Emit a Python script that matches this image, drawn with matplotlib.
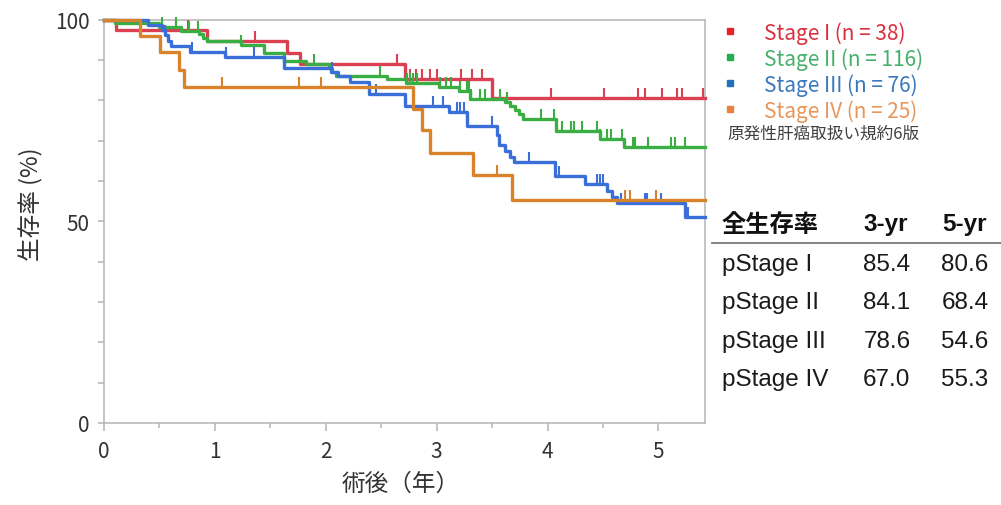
import numpy as np
import matplotlib
matplotlib.use("Agg")
import matplotlib.pyplot as plt
from matplotlib.lines import Line2D
from matplotlib.path import Path

plt.rcParams['font.family'] = ['Noto Sans CJK JP', 'DejaVu Sans']

# ---------------- data ----------------
x_end = 5.42  # end of follow-up shown

# Stage I
t1 = [0.108, 0.93, 1.65, 1.77, 2.71, 3.50]
s1 = [97.4, 94.7, 91.8, 88.9, 85.4, 80.6]
c1 = [0.76, 1.36, 2.64, 2.76, 2.81, 2.87, 2.94, 3.00, 3.22, 3.32, 3.41,
      4.03, 4.51, 4.82, 4.88, 5.03, 5.17, 5.21, 5.40]

# Stage II
t2 = [0.10, 0.50, 0.69, 0.86, 0.89, 0.93, 1.24, 1.44, 1.62, 1.82, 2.03, 2.06,
      2.09, 2.55, 2.72, 3.02, 3.20, 3.30, 3.62, 3.66, 3.71, 3.74, 3.78, 4.08,
      4.47, 4.69]
s2 = [99.1, 98.2, 97.3, 96.4, 95.5, 94.6, 93.8, 91.8, 89.8, 88.9, 88.0, 87.0,
      86.1, 85.3, 84.4, 83.4, 82.2, 80.4, 79.5, 78.6, 77.5, 76.6, 75.4, 72.3,
      70.5, 68.4]
c2 = [0.52, 0.65, 0.77, 0.85, 1.24, 1.89, 2.49, 2.73, 2.76, 2.79, 2.82, 3.03,
      3.08, 3.13, 3.21, 3.27, 3.29, 3.31, 3.39, 3.44, 3.57, 3.63, 3.94, 4.06,
      4.13, 4.21, 4.24, 4.31, 4.45, 4.47, 4.54, 4.57, 4.67, 4.77, 4.79, 4.91,
      5.11, 5.15, 5.24]

# Stage III
t3 = [0.40, 0.52, 0.55, 0.58, 0.60, 0.78, 1.09, 1.62, 2.05, 2.11, 2.22, 2.39,
      2.71, 3.11, 3.27, 3.54, 3.56, 3.62, 3.66, 3.70, 4.07, 4.34, 4.54, 4.58,
      4.63, 5.24]
s3 = [98.7, 97.4, 96.1, 94.7, 93.4, 92.1, 90.8, 87.9, 87.0, 86.1, 84.6, 81.6,
      78.6, 77.0, 73.7, 71.5, 69.0, 67.5, 66.0, 64.6, 61.3, 59.3, 57.6, 56.1,
      54.6, 51.0]
c3 = [0.55, 0.79, 1.10, 1.35, 2.06, 2.45, 2.97, 3.06, 3.18, 3.21, 3.25, 3.50,
      3.83, 4.10, 4.45, 4.47, 4.50, 4.66, 4.88, 4.90, 5.02, 5.27]

# Stage IV
t4 = [0.325, 0.505, 0.68, 0.72, 2.79, 2.87, 2.94, 3.33, 3.68]
s4 = [96.0, 92.0, 87.6, 83.2, 77.9, 72.6, 67.0, 61.4, 55.3]
c4 = [1.06, 1.76, 1.96, 3.54, 4.70, 4.74, 4.98]

legend_labels = ['Stage I (n = 38)', 'Stage II (n = 116)',
                 'Stage III (n = 76)', 'Stage IV (n = 25)']
note_text = '原発性肝癌取扱い規約6版'

table_title = '全生存率'
table_cols = ['3-yr', '5-yr']
table_rows = ['pStage I', 'pStage II', 'pStage III', 'pStage IV']
os_3yr = [85.4, 84.1, 78.6, 67.0]
os_5yr = [80.6, 68.4, 54.6, 55.3]

# ---------------- styles ----------------
line_colors = ['#d94152', '#3aad43', '#3a6fd9', '#d8832b']
legend_text_colors = ['#d9303f', '#45b06a', '#3a78bd', '#e8965a']
legend_sq_colors = ['#e8202a', '#20b050', '#2070c0', '#e88040']
frame_c = '#b4b4b4'
text_c = '#333333'

W, H = 1001, 506
fig = plt.figure(figsize=(W / 100, H / 100), dpi=100)
ax = fig.add_axes([104 / W, 1 - 424 / H, (705 - 104) / W, (424 - 20.7) / H])

tick_marker = Path([(0, 0), (0, 1)])

series = [(t1, s1, c1), (t2, s2, c2), (t3, s3, c3), (t4, s4, c4)]
order = [0, 1, 3, 2]
for i in order:
    t, s, c = series[i]
    tt = np.array([0.0] + list(t) + [x_end])
    ss = np.array([100.0] + list(s) + [s[-1]])
    ax.step(tt, ss, where='post', color=line_colors[i], lw=2.4,
            clip_on=False, zorder=3 + i * 0.1)
    cc = np.array(c)
    idx = np.searchsorted(tt, cc, side='right') - 1
    ax.plot(cc, ss[idx], ls='none', marker=tick_marker, ms=14, mew=1.5,
            color=line_colors[i], clip_on=False, zorder=3 + i * 0.1)

ax.set_xlim(0, x_end)
ax.set_ylim(0, 100)
ax.set_xticks(range(6))
ax.set_xticks(np.arange(0.5, 5.0, 1.0), minor=True)
ax.set_yticks([0, 50, 100])
ax.set_yticks(range(10, 100, 10), minor=True)
ax.tick_params(axis='both', which='both', direction='out', color=frame_c,
               width=1.1, labelcolor=text_c, labelsize=15)
ax.tick_params(axis='x', which='major', length=6, pad=6)
ax.tick_params(axis='x', which='minor', length=3.5)
ax.tick_params(axis='y', which='both', length=4.5, pad=6)
for sp in ax.spines.values():
    sp.set_color(frame_c)
    sp.set_linewidth(1.1)

ax.set_xlabel('術後（年）', fontsize=17, color=text_c)
ax.xaxis.set_label_coords(0.493, -0.12)
ax.set_ylabel('生存率 (%)', fontsize=17, color=text_c)
ax.yaxis.set_label_coords(-0.103, 0.545)

handles = [Line2D([], [], marker='s', ls='none', color=col, markersize=4.5)
           for col in legend_sq_colors]
leg = ax.legend(handles, legend_labels, loc='upper left',
                bbox_to_anchor=(720 / W, 1 - 22 / H),
                bbox_transform=fig.transFigure, frameon=False, fontsize=15,
                labelcolor=legend_text_colors, handlelength=1.0,
                handletextpad=1.125, labelspacing=0.16, borderpad=0,
                borderaxespad=0)

fig.text(727 / W, 1 - 134 / H, note_text, fontsize=12, va='center',
         ha='left', color='#404040')

# summary table
tab_font = ['Liberation Sans', 'Noto Sans CJK JP']
hdr_y = 1 - 225 / H
fig.text(721.7 / W, hdr_y, table_title, fontsize=17.5, fontweight='bold',
         family=['Noto Sans CJK JP'], va='center', ha='left', color='#111111')
col_right = [908 / W, 987 / W]
for cx, name in zip(col_right, table_cols):
    fig.text(cx, hdr_y, name, fontsize=17.5, fontweight='bold',
             family=tab_font, va='center', ha='right', color='#111111')
fig.add_artist(Line2D([712 / W, 1.0], [1 - 244.3 / H] * 2, color='#7a7a7a',
                      lw=1.3, transform=fig.transFigure))
row_ys = [265, 303.3, 341.7, 380]
for ry, lab, a, b in zip(row_ys, table_rows, os_3yr, os_5yr):
    y = 1 - ry / H
    fig.text(721.7 / W, y, lab, fontsize=17.5, family=tab_font,
             va='center', ha='left', color='#1a1a1a')
    fig.text(col_right[0] + 2.5 / W, y, f'{a:.1f}', fontsize=17.5,
             family=tab_font, va='center', ha='right', color='#1a1a1a')
    fig.text(col_right[1] + 1.5 / W, y, f'{b:.1f}', fontsize=17.5,
             family=tab_font, va='center', ha='right', color='#1a1a1a')

fig.savefig('out.png', dpi=100)
